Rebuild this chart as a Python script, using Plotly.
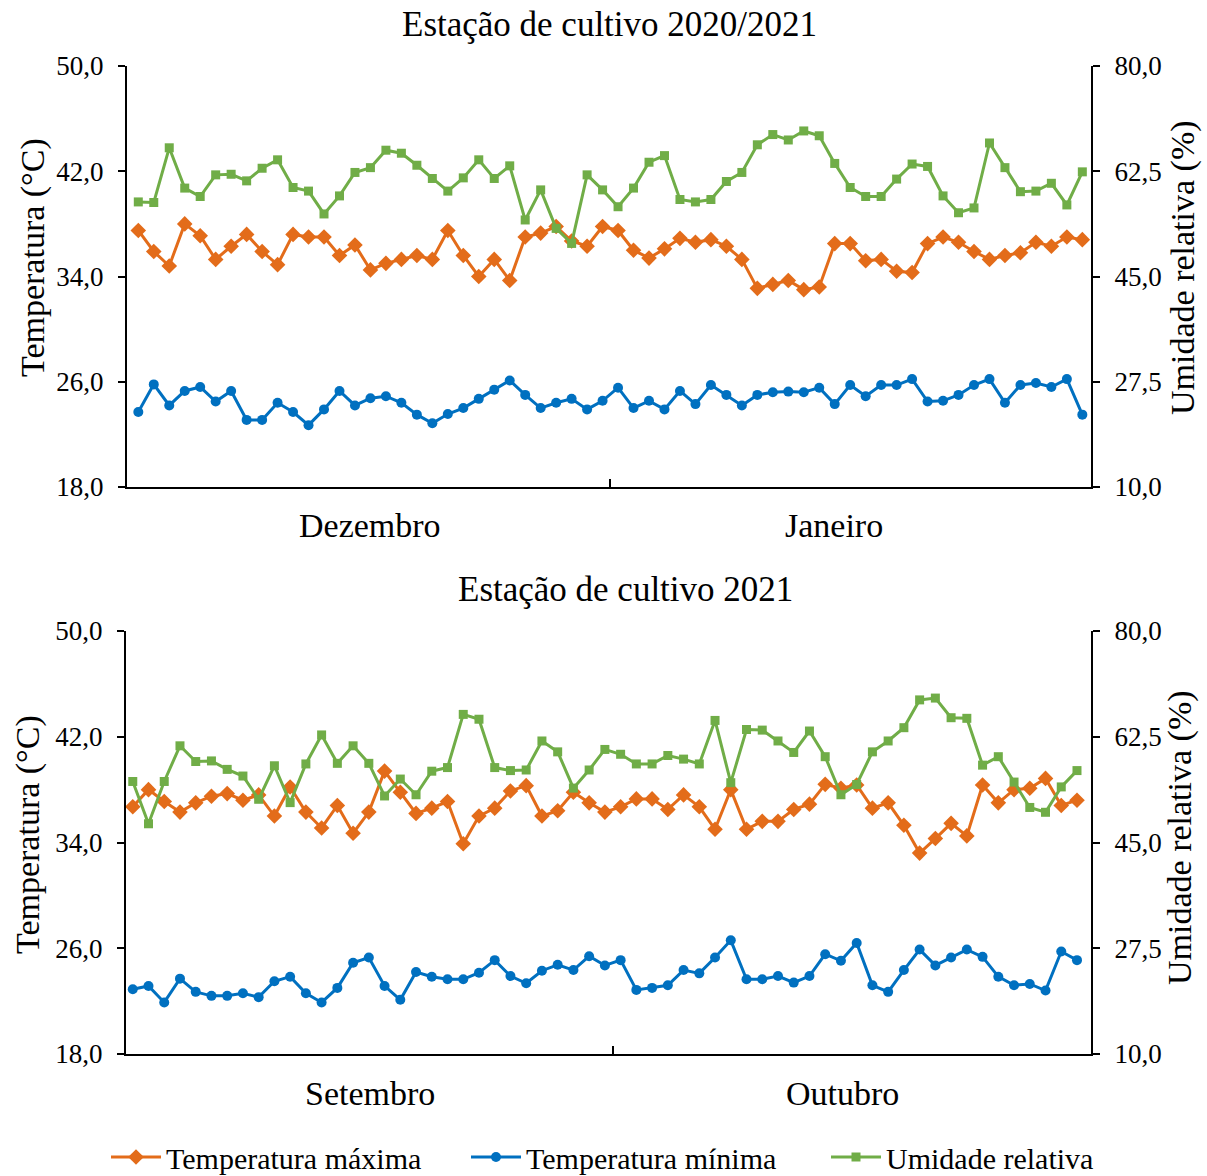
import plotly.graph_objects as go
from plotly.subplots import make_subplots

# ---- Season 2020/2021 (December + January) ----
months_a = ["Dezembro", "Janeiro"]
tmax_a = [37.5, 35.9, 34.8, 38.0, 37.1, 35.3, 36.3, 37.2, 35.9, 34.9,
          37.2, 37.0, 37.0, 35.6, 36.4, 34.5, 35.0, 35.3, 35.6, 35.3,
          37.5, 35.6, 34.0, 35.3, 33.7, 37.0, 37.3, 37.8, 36.7, 36.3,
          37.8, 37.5, 36.0, 35.4, 36.1, 36.9, 36.6, 36.8, 36.3, 35.3,
          33.1, 33.4, 33.7, 33.0, 33.2, 36.5, 36.5, 35.2, 35.3, 34.4,
          34.3, 36.5, 37.0, 36.6, 35.9, 35.3, 35.6, 35.8, 36.6, 36.3,
          37.0, 36.8]
tmin_a = [23.7, 25.8, 24.2, 25.3, 25.6, 24.5, 25.3, 23.1, 23.1, 24.4,
          23.7, 22.7, 23.9, 25.3, 24.2, 24.75, 24.9, 24.4, 23.5, 22.85,
          23.55, 24.0, 24.7, 25.4, 26.1, 25.0, 24.0, 24.4, 24.7, 23.9,
          24.55, 25.55, 24.0, 24.55, 23.9, 25.3, 24.3, 25.75, 25.0, 24.2,
          25.0, 25.2, 25.25, 25.2, 25.55, 24.3, 25.75, 24.9, 25.75, 25.75,
          26.2, 24.5, 24.55, 25.0, 25.75, 26.2, 24.4, 25.75, 25.9, 25.6,
          26.2, 23.5]
ur_a = [57.4, 57.3, 66.4, 59.7, 58.3, 61.9, 62.0, 60.9, 63.0, 64.4,
        59.8, 59.2, 55.4, 58.4, 62.3, 63.1, 66.0, 65.5, 63.5, 61.3,
        59.2, 61.4, 64.4, 61.3, 63.4, 54.4, 59.4, 53.0, 50.5, 61.9,
        59.4, 56.6, 59.7, 64.0, 65.1, 57.8, 57.4, 57.8, 60.8, 62.3,
        66.9, 68.6, 67.7, 69.2, 68.4, 63.8, 59.8, 58.3, 58.3, 61.2,
        63.7, 63.3, 58.4, 55.6, 56.4, 67.2, 63.1, 59.1, 59.2, 60.5,
        56.9, 62.4]

# ---- Season 2021 (September + October) ----
months_b = ["Setembro", "Outubro"]
tmax_b = [36.7, 38.0, 37.1, 36.3, 37.0, 37.5, 37.7, 37.2, 37.6, 36.0,
          38.2, 36.3, 35.1, 36.8, 34.7, 36.3, 39.4, 37.8, 36.2, 36.6,
          37.1, 33.9, 36.0, 36.6, 37.9, 38.3, 36.0, 36.4, 37.8, 37.0,
          36.3, 36.7, 37.3, 37.3, 36.5, 37.6, 36.7, 35.0, 38.0, 35.0,
          35.6, 35.6, 36.5, 36.9, 38.4, 38.1, 38.35, 36.6, 37.0, 35.3,
          33.2, 34.3, 35.45, 34.5, 38.35, 37.0, 38.0, 38.1, 38.85, 36.8,
          37.2]
tmin_b = [22.9, 23.15, 21.9, 23.7, 22.7, 22.4, 22.4, 22.6, 22.3, 23.5,
          23.85, 22.6, 21.9, 23.0, 24.9, 25.3, 23.15, 22.1, 24.2, 23.85,
          23.65, 23.65, 24.15, 25.1, 23.9, 23.35, 24.3, 24.75, 24.35, 25.4,
          24.7, 25.1, 22.85, 23.0, 23.2, 24.35, 24.1, 25.3, 26.6, 23.65,
          23.65, 23.9, 23.4, 23.9, 25.55, 25.05, 26.4, 23.2, 22.7, 24.35,
          25.9, 24.7, 25.3, 25.9, 25.35, 23.85, 23.2, 23.3, 22.8, 25.75,
          25.1]
ur_b = [55.1, 48.1, 55.1, 61.0, 58.4, 58.5, 57.1, 56.0, 52.15, 57.7,
        51.6, 58.0, 62.8, 58.1, 61.0, 58.1, 52.7, 55.5, 52.9, 56.8,
        57.4, 66.2, 65.4, 57.4, 56.9, 57.0, 61.8, 60.0, 54.0, 57.0,
        60.4, 59.6, 58.0, 58.0, 59.4, 58.8, 58.0, 65.2, 54.9, 63.7,
        63.6, 61.8, 59.9, 63.45, 59.2, 52.9, 54.6, 60.0, 61.8, 64.0,
        68.6, 68.9, 65.65, 65.55, 57.8, 59.2, 55.0, 50.8, 50.0, 54.2,
        56.9]

temp_ticks = [18, 26, 34, 42, 50]
ur_ticks = [10, 27.5, 45, 62.5, 80]

titles = ["Estação de cultivo 2020/2021", "Estação de cultivo 2021"]
series_names = ["Temperatura máxima", "Temperatura mínima", "Umidade relativa"]

C_MAX = "#E36C1A"
C_MIN = "#0070C0"
C_UR = "#70AD47"
FONT = "Liberation Serif"
W, H = 1207, 1176


def px(x):
    return x / W


def py(y):
    return 1 - y / H


fig = make_subplots(rows=2, cols=1,
                    specs=[[{"secondary_y": True}], [{"secondary_y": True}]])

panels = [
    (tmax_a, tmin_a, ur_a, 1),
    (tmax_b, tmin_b, ur_b, 2),
]
for tmax, tmin, ur, row in panels:
    days = list(range(len(tmax)))
    show = row == 1
    fig.add_trace(go.Scatter(x=days, y=tmax, name=series_names[0], mode="lines+markers",
                             line=dict(color=C_MAX, width=3),
                             marker=dict(symbol="diamond", size=12, color=C_MAX),
                             showlegend=show, legendrank=1),
                  row=row, col=1, secondary_y=False)
    fig.add_trace(go.Scatter(x=days, y=tmin, name=series_names[1], mode="lines+markers",
                             line=dict(color=C_MIN, width=3),
                             marker=dict(symbol="circle", size=10, color=C_MIN),
                             showlegend=show, legendrank=2),
                  row=row, col=1, secondary_y=False)
    fig.add_trace(go.Scatter(x=days, y=ur, name=series_names[2], mode="lines+markers",
                             line=dict(color=C_UR, width=3),
                             marker=dict(symbol="square", size=9, color=C_UR),
                             showlegend=show, legendrank=3),
                  row=row, col=1, secondary_y=True)

axis_common = dict(showline=True, linecolor="black", linewidth=2, showgrid=False,
                   zeroline=False, mirror=False)
ytick_font = dict(family=FONT, size=27, color="black")

# panel geometry in pixels: (left, right, top, bottom, x-range, month boundary)
geom = [
    (127, 1091, 66, 487, [-0.73, 61.56], 30.5),
    (126, 1091, 631, 1054, [-0.43, 60.89], 30.5),
]
for i, (l, r, t, b, xr, boundary) in enumerate(geom, start=1):
    sx = "" if i == 1 else str(i)
    fig.update_layout({
        f"xaxis{sx}": dict(domain=[px(l), px(r)], range=xr, tickvals=[boundary],
                           ticks="inside", ticklen=8, tickwidth=2, tickcolor="black",
                           showticklabels=False, **axis_common),
    })
    fig.update_yaxes(domain=[py(b), py(t)], range=[18, 50], tickvals=temp_ticks,
                     tickformat=".1f", ticks="outside", ticklen=7, tickwidth=2,
                     tickcolor="black", tickfont=ytick_font, ticklabelstandoff=9,
                     **axis_common, row=i, col=1, secondary_y=False)
    fig.update_yaxes(domain=[py(b), py(t)], range=[10, 80], tickvals=ur_ticks,
                     tickformat=".1f", ticks="outside", ticklen=7, tickwidth=2,
                     tickcolor="black", tickfont=ytick_font, ticklabelstandoff=9,
                     **axis_common, row=i, col=1, secondary_y=True)

annotations = []
# panel titles
for text, (x, y) in zip(titles, [(609, 24), (625, 589)]):
    annotations.append(dict(text=text, x=px(x), y=py(y), xref="paper", yref="paper",
                            showarrow=False, xanchor="center", yanchor="middle",
                            font=dict(family=FONT, size=35, color="black")))
# month labels under each x axis
month_pos = [
    (months_a, [(370, 525), (834, 525)]),
    (months_b, [(370, 1093), (842, 1093)]),
]
for names, pos in month_pos:
    for name, (x, y) in zip(names, pos):
        annotations.append(dict(text=name, x=px(x), y=py(y), xref="paper", yref="paper",
                                showarrow=False, xanchor="center", yanchor="middle",
                                font=dict(family=FONT, size=34, color="black")))
# axis titles
for (lx, ly), (rx, ry) in [((33, 258), (1183, 268)), ((28, 835), (1180, 838))]:
    annotations.append(dict(text="Temperatura (°C)", x=px(lx), y=py(ly), xref="paper",
                            yref="paper", showarrow=False, textangle=-90,
                            xanchor="center", yanchor="middle",
                            font=dict(family=FONT, size=34, color="black")))
    annotations.append(dict(text="Umidade relativa (%)", x=px(rx), y=py(ry), xref="paper",
                            yref="paper", showarrow=False, textangle=-90,
                            xanchor="center", yanchor="middle",
                            font=dict(family=FONT, size=34, color="black")))

fig.update_layout(
    width=W, height=H,
    margin=dict(l=0, r=0, t=0, b=0, autoexpand=False),
    paper_bgcolor="white", plot_bgcolor="white",
    separators=",.",
    annotations=annotations,
    legend=dict(orientation="h", x=px(646), xanchor="center", y=py(1157), yanchor="middle",
                font=dict(family=FONT, size=30, color="black"), itemwidth=50,
                entrywidth=295, entrywidthmode="pixels",
                bgcolor="rgba(0,0,0,0)", traceorder="normal"),
    font=dict(family=FONT, color="black"),
)

fig.write_html("out.html")
